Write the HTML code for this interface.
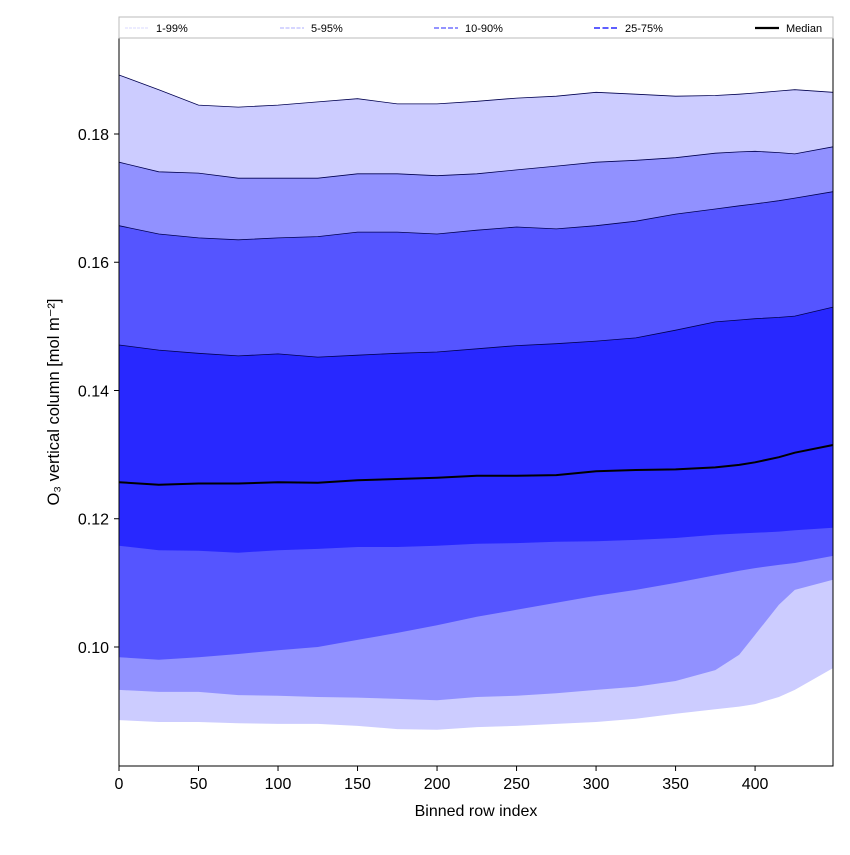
<!DOCTYPE html>
<html><head><meta charset="utf-8"><style>
body{margin:0;background:#fff}
svg text{font-family:"Liberation Sans","DejaVu Sans",sans-serif}
</style></head><body>
<svg id="chart" width="850" height="850" xmlns="http://www.w3.org/2000/svg">
<g id="plot"></g>
<g id="axes"></g>
</svg>
<script>
const xs   = [0,25,50,75,100,125,150,175,200,225,250,275,300,325,350,375,390,400,415,425,449];
const p99  = [0.1892,0.1869,0.1845,0.1842,0.1845,0.1850,0.1855,0.1847,0.1847,0.1851,0.1856,0.1859,0.1865,0.1862,0.1859,0.1860,0.1862,0.1864,0.1867,0.1869,0.1865];
const p95  = [0.1756,0.1741,0.1739,0.1731,0.1731,0.1731,0.1738,0.1738,0.1735,0.1738,0.1744,0.1750,0.1756,0.1759,0.1763,0.1770,0.1772,0.1773,0.1771,0.1769,0.1780];
const p90  = [0.1657,0.1644,0.1638,0.1635,0.1638,0.1640,0.1647,0.1647,0.1644,0.1650,0.1655,0.1652,0.1657,0.1664,0.1675,0.1683,0.1688,0.1691,0.1696,0.1700,0.1710];
const p75  = [0.1471,0.1463,0.1458,0.1454,0.1457,0.1452,0.1455,0.1458,0.1460,0.1465,0.1470,0.1473,0.1477,0.1482,0.1494,0.1507,0.1510,0.1512,0.1514,0.1516,0.1530];
const p50  = [0.1257,0.1253,0.1255,0.1255,0.1257,0.1256,0.1260,0.1262,0.1264,0.1267,0.1267,0.1268,0.1274,0.1276,0.1277,0.1280,0.1284,0.1288,0.1296,0.1303,0.1315];
const p25  = [0.1158,0.1151,0.1150,0.1147,0.1151,0.1153,0.1156,0.1156,0.1158,0.1161,0.1162,0.1164,0.1165,0.1167,0.1170,0.1175,0.1177,0.1178,0.1180,0.1182,0.1186];
const p10  = [0.0984,0.0980,0.0984,0.0989,0.0995,0.1000,0.1011,0.1022,0.1034,0.1047,0.1058,0.1069,0.1080,0.1089,0.1100,0.1112,0.1119,0.1123,0.1128,0.1131,0.1142];
const p5   = [0.0933,0.0930,0.0930,0.0925,0.0924,0.0922,0.0921,0.0919,0.0917,0.0922,0.0924,0.0928,0.0933,0.0938,0.0947,0.0964,0.0988,0.1019,0.1066,0.1089,0.1105];
const p1   = [0.0886,0.0883,0.0883,0.0881,0.0880,0.0880,0.0877,0.0872,0.0871,0.0875,0.0877,0.0880,0.0883,0.0888,0.0896,0.0903,0.0907,0.0911,0.0922,0.0933,0.0967];
const xTicks = [0,50,100,150,200,250,300,350,400];
const yTicks = [0.10,0.12,0.14,0.16,0.18];
const legendLabels = ["1-99%","5-95%","10-90%","25-75%","Median"];

const L=119,R=833,T=38,B=766, xMin=0,xMax=449, yMin=0.08144,yMax=0.19497;
const X=v=>L+(v-xMin)/(xMax-xMin)*(R-L);
const Y=v=>B-(v-yMin)/(yMax-yMin)*(B-T);
const NS="http://www.w3.org/2000/svg";
const plot=document.getElementById('plot'), axes=document.getElementById('axes');
function mk(tag,attrs,parent){const e=document.createElementNS(NS,tag);for(const k in attrs)e.setAttribute(k,attrs[k]);parent.appendChild(e);return e;}
function band(lo,hi,fill,name){
  let d='M'+xs.map((x,i)=>X(x).toFixed(1)+','+Y(hi[i]).toFixed(1)).join('L');
  for(let i=xs.length-1;i>=0;i--)d+='L'+X(xs[i]).toFixed(1)+','+Y(lo[i]).toFixed(1);
  const p=mk('path',{d:d+'Z',fill:fill},plot);
  
  
  const l=mk('path',{d:'M'+xs.map((x,i)=>X(x).toFixed(1)+','+Y(hi[i]).toFixed(1)).join('L'),fill:'none',stroke:'#000050','stroke-width':0.8},plot);
  
  
}
band(p1,p99,'#ccccff','band-1-99');
band(p5,p95,'#9191ff','band-5-95');
band(p10,p90,'#5555ff','band-10-90');
band(p25,p75,'#2828ff','band-25-75');
const med=mk('path',{d:'M'+xs.map((x,i)=>X(x).toFixed(1)+','+Y(p50[i]).toFixed(1)).join('L'),fill:'none',stroke:'#000','stroke-width':2},plot);



const frame=mk('rect',{x:L,y:T,width:R-L,height:B-T,fill:'none',stroke:'#000','stroke-width':1},axes);


xTicks.forEach(t=>{
  mk('line',{x1:X(t),x2:X(t),y1:B,y2:B+5,stroke:'#000'},axes);
  const tx=mk('text',{x:X(t),y:B+23,'font-size':16,'text-anchor':'middle'},axes);
  tx.textContent=t;
  
  
});
yTicks.forEach(t=>{
  mk('line',{x1:L-5,x2:L,y1:Y(t),y2:Y(t),stroke:'#000'},axes);
  const tx=mk('text',{x:L-10,y:Y(t)+6,'font-size':16,'text-anchor':'end'},axes);
  tx.textContent=t.toFixed(2);
  
  
});
const xt=mk('text',{x:(L+R)/2,y:816,'font-size':16,'text-anchor':'middle'},axes);
xt.textContent='Binned row index';


const yt=mk('text',{x:0,y:0,'font-size':16.5,'text-anchor':'middle',transform:'translate(59,402) rotate(-90)'},axes);
yt.textContent='O₃ vertical column [mol m⁻²]';



// legend
const lg=mk('rect',{x:119,y:17,width:714,height:21,fill:'#fff',stroke:'#bbb','stroke-width':1},axes);


const lgX=[125,280,434,594,755];
const lgStyle=[['#ccccff',0.8,'3,1'],['#9191ff',0.8,'4,1.5'],['#5555ff',1.2,'5,2'],['#2828ff',1.6,'6,2.5'],['#000',2.2,'']];
legendLabels.forEach((lab,i)=>{
  const s=lgStyle[i];
  const ln=mk('line',{x1:lgX[i],x2:lgX[i]+24,y1:28,y2:28,stroke:s[0],'stroke-width':s[1],'stroke-dasharray':s[2]},axes);
  
  
  const tx=mk('text',{x:lgX[i]+31,y:32,'font-size':11},axes);
  tx.textContent=lab;
  
  
});
</script>
</body></html>
